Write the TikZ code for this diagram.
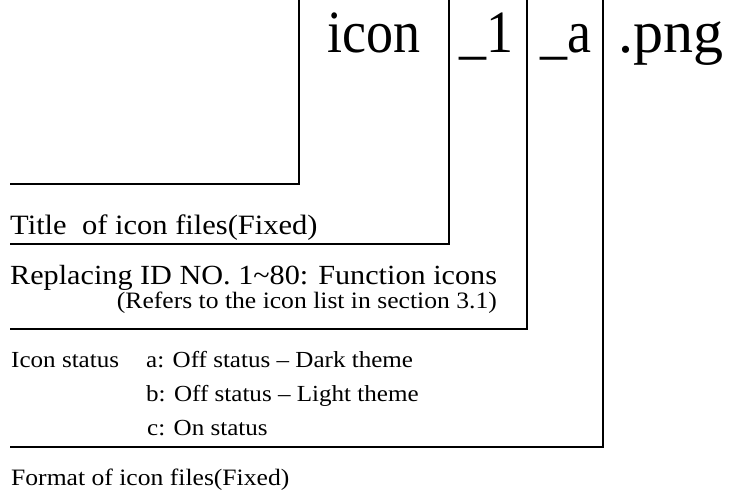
\documentclass[tikz,border=0pt]{standalone}
\usepackage{fontspec}
\setmainfont{Liberation Serif}
\newfontfamily\wideserif[FakeStretch=1.09, Ligatures=TeX]{Liberation Serif}
\newfontfamily\narrowserif[FakeStretch=0.9, Ligatures=TeX]{Liberation Serif}
\usetikzlibrary{positioning}
\newcommand{\bigname}{\narrowserif\fontsize{60}{60}\selectfont}
\newcommand{\lblsize}{\wideserif\fontsize{28}{30}\selectfont}
\newcommand{\notesize}{\wideserif\fontsize{23.5}{25}\selectfont}
\newcommand{\statsize}{\wideserif\fontsize{23}{25}\selectfont}
\tikzset{
  bracket/.style={line width=2.8pt, line join=miter},
  part/.style={anchor=base, inner sep=0pt, font=\bigname},
  lbl/.style={anchor=base west, inner sep=0pt, font=\lblsize},
  note/.style={anchor=base east, inner sep=0pt, font=\notesize},
  statlbl/.style={anchor=base west, inner sep=0pt, font=\statsize}
}

\begin{document}
\begin{tikzpicture}[x=1pt, y=-1pt]
  \useasboundingbox (0,0) rectangle (737,499);

  \node[part] (icon) at (374,52) {icon};
  \node[part] (num) at (486,52) {\_1};
  \node[part] (stat) at (566,52) {\_a};
  \node[part, anchor=base west, font=\fontsize{60}{60}\selectfont] (ext) at (618,52) {.png};

  \coordinate (titletop) at (299,0);
  \coordinate (titleend) at (10,184);
  \coordinate (numtop) at (449,0);
  \coordinate (numend) at (10,244);
  \coordinate (stattop) at (527,0);
  \coordinate (statend) at (10,329);
  \coordinate (exttop) at (603,0);
  \coordinate (extend) at (10,447);

  \draw[bracket] (titletop) |- (titleend);
  \draw[bracket] (numtop) |- (numend);
  \draw[bracket] (stattop) |- (statend);
  \draw[bracket] (exttop) |- (extend);

  \node[lbl] (title) at (10,234) {Title\ \ of icon files(Fixed)};
  \node[lbl, font=\wideserif\fontsize{27.7}{30}\selectfont] (replace) at (10,284)
    {Replacing ID NO. 1\textasciitilde80: Function icons};
  \node[note] (refers) at (497,308) {(Refers to the icon list in section 3.1)};
  \node[statlbl] (status) at (11,367) {Icon status};
  \node[statlbl] (stata) at (146,367) {a: Off status -- Dark theme};
  \node[statlbl] (statb) at (146,401) {b: Off status -- Light theme};
  \node[statlbl] (statc) at (147,435) {c: On status};
  \node[statlbl, font=\wideserif\fontsize{23.5}{25}\selectfont] (format) at (11,485)
    {Format of icon files(Fixed)};
\end{tikzpicture}
\end{document}
